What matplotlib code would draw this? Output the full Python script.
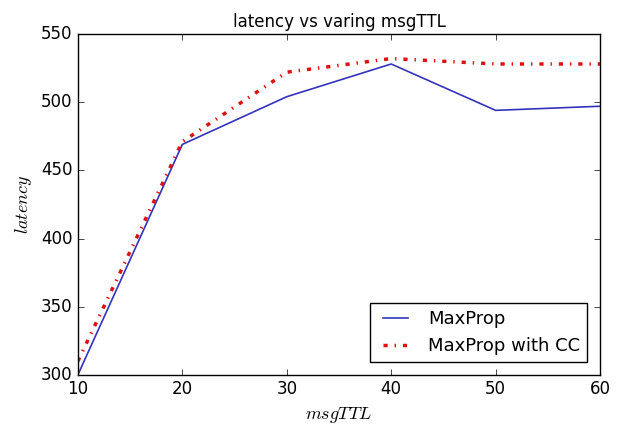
import matplotlib
matplotlib.use("Agg")
import matplotlib.pyplot as plt

# data
msg_ttl = [10, 20, 30, 40, 50, 60]
maxprop = [300, 469, 504, 528, 494, 497]
maxprop_cc = [310, 471, 522, 532, 528, 528]

plt.style.use("classic")
fig = plt.figure(figsize=(6.18, 4.25), dpi=100)
ax = fig.add_axes([0.126, 0.118, 0.845, 0.802])

ax.plot(msg_ttl, maxprop, color="#3333bb", linewidth=1.2, label="MaxProp")
ax.plot(msg_ttl, maxprop_cc, color="#dd1111", linewidth=2.5, linestyle="-.",
        label="MaxProp with CC")

ax.set_xlim(10, 60)
ax.set_ylim(300, 550)
ax.set_title("latency vs varing msgTTL", fontsize=12)
ax.set_xlabel("$msgTTL$", fontsize=13)
ax.set_ylabel("$latency$", fontsize=13)
ax.legend(loc="lower right", fontsize=13, borderaxespad=0.7)

fig.savefig("out.png", dpi=100, facecolor="white")
